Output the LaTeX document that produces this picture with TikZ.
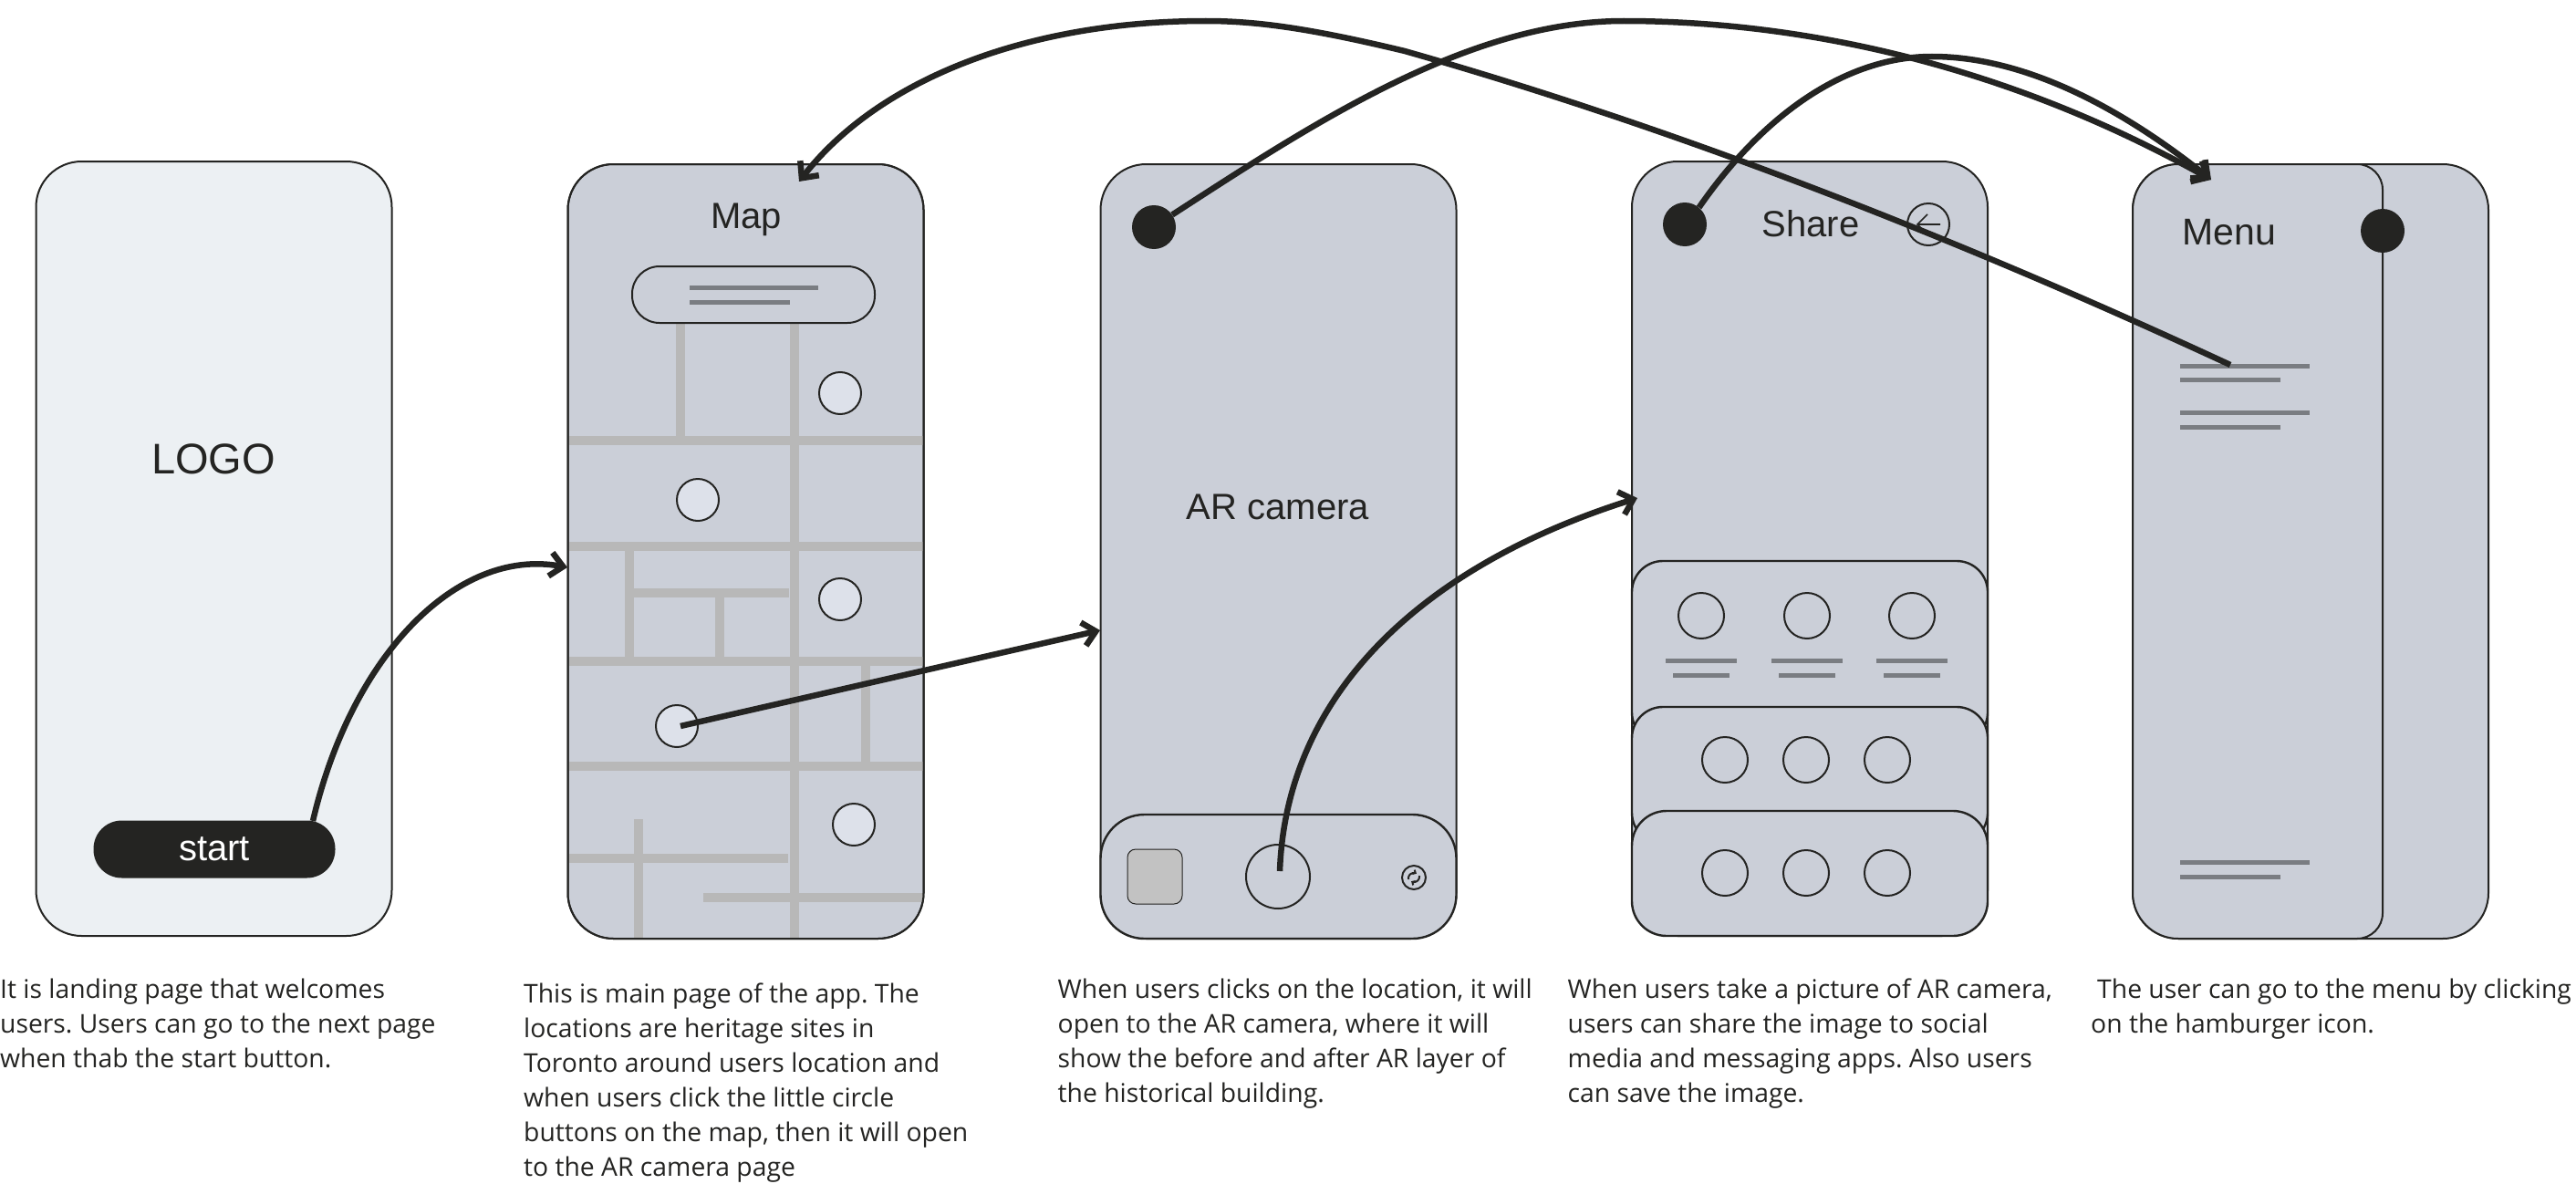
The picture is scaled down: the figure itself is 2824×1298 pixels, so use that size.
\documentclass[tikz,border=0pt]{standalone}
\usepackage{fontspec}
\setmainfont{Open Sans}
\newfontfamily\titlefont{Liberation Sans}
\usetikzlibrary{arrows.meta}
\definecolor{scr}{HTML}{CBCFD8}
\definecolor{scrlight}{HTML}{ECF0F3}
\definecolor{road}{HTML}{B8B8B8}
\definecolor{txtline}{HTML}{7A7D82}
\definecolor{ink}{HTML}{242422}
\definecolor{pinfill}{HTML}{DDE1EA}
\definecolor{thumb}{HTML}{C2C2C2}
\tikzset{
 screen/.style={draw=ink,line width=2pt,fill=scr,rounded corners=50pt,anchor=north west,inner sep=0pt,outer sep=0pt,minimum width=390pt,minimum height=849pt},
 panel/.style={draw=ink,line width=2.4pt,fill=scr,anchor=north west,inner sep=0pt,outer sep=0pt,minimum width=390pt},
 title/.style={font=\titlefont\fontsize{40}{48}\selectfont,text=ink,inner sep=0pt},
 desc/.style={font=\fontsize{28.3}{38}\selectfont,text=ink,anchor=north west,align=left,inner sep=0pt},
 pin/.style={circle,draw=ink,line width=2pt,fill=pinfill,inner sep=0pt,minimum size=46pt},
 hole/.style={circle,draw=ink,line width=2pt,fill=scr,inner sep=0pt,minimum size=50pt},
 dot/.style={circle,fill=ink,draw=none,inner sep=0pt,minimum size=48pt},
 rd/.style={draw=road,line width=10pt},
 tl/.style={draw=txtline,line width=5pt},
 link/.style={draw=ink,line width=6.5pt,-{Straight Barb[length=14pt,width=26pt,line width=6.5pt]}}
}
\begin{document}
\frenchspacing
\begin{tikzpicture}[x=1pt,y=-1pt]
\useasboundingbox (0,0) rectangle (2824,1298);
\fill[white] (0,0) rectangle (2824,1298);

% Screen 1
\node[screen,fill=scrlight] (s1) at (39.5,177) {};
\node[title,font=\titlefont\fontsize{47}{56}\selectfont] (logo) at (234,503) {LOGO};
\node[fill=ink,rounded corners=31pt,minimum width=265pt,minimum height=63pt,inner sep=0pt,text=white,font=\titlefont\fontsize{40}{48}\selectfont] (startbtn) at (235,931) {\raisebox{-3.5pt}{start}};

% Screen 2
\node[screen] (s2) at (622.5,180) {};
\foreach \xa/\ya/\xb/\yb in {746/354/746/480, 871/354/871/1029, 624/483/1012/483, 624/599/1012/599,
  624/725/1012/725, 624/840/1012/840, 690/599/690/725, 695/650/865/650, 789/650/789/725,
  949/725/949/840, 700/898/700/1029, 624/941/864/941, 771/984/1012/984}
  \draw[rd] (\xa,\ya) -- (\xb,\yb);
\node[screen,fill=none] at (622.5,180) {};
\node[title] (maptitle) at (818,241) {Map};
\node[draw=ink,line width=2pt,fill=scr,rounded corners=30pt,minimum width=266pt,minimum height=62pt,inner sep=0pt] (search) at (826,323) {};
\draw[tl] (756,315) -- (897,315);
\draw[tl] (756,331) -- (866,331);
\node[pin] (pin1) at (921,431) {};
\node[pin] (pin2) at (765,548) {};
\node[pin] (pin3) at (921,657) {};
\node[pin] (pin4) at (742,796) {};
\node[pin] (pin5) at (936,904) {};

% Screen 3
\node[screen] (s3) at (1206.5,180) {};
\node[panel,rounded corners=48pt,minimum height=136pt] (campanel) at (1206.5,893) {};
\node[dot] (dot3) at (1265,249) {};
\node[title] (artitle) at (1401,556) {AR camera};
\node[draw=ink,line width=1pt,fill=thumb,rounded corners=9pt,minimum width=60pt,minimum height=60pt,inner sep=0pt] (gallery) at (1266,961) {};
\node[circle,draw=ink,line width=2pt,fill=scr,minimum size=70pt,inner sep=0pt] (capture) at (1401,961) {};
\node[circle,draw=ink,line width=2pt,fill=scr,minimum size=26pt,inner sep=0pt] (flip) at (1550,962) {};
\draw[ink,line width=2pt,-{Straight Barb[length=2.5pt,width=5pt]}] (1544,964) arc[start angle=190,end angle=60,radius=6pt];
\draw[ink,line width=2pt,-{Straight Barb[length=2.5pt,width=5pt]}] (1556,960) arc[start angle=10,end angle=-120,radius=6pt];

% Screen 4
\node[screen] (s4) at (1789,177) {};
\node[dot] (dot4) at (1847,246) {};
\node[title] (sharetitle) at (1985,245) {Share};
\node[circle,draw=ink,line width=2pt,fill=scr,minimum size=46pt,inner sep=0pt] (back) at (2114,246) {};
\draw[ink,line width=1.6pt] (2127,246) -- (2102,246) (2113,235) -- (2102,246) -- (2113,257);
\node[panel,rounded corners=34pt,minimum height=200pt] (p1) at (1789,615) {};
\foreach \x in {1865,1981,2096}{
  \node[hole] (a\x) at (\x,675) {};
  \draw[tl] (\x-39,724) -- (\x+39,724);
  \draw[tl] (\x-31,740) -- (\x+31,740);
}
\node[panel,rounded corners=34pt,minimum height=150pt] (p2) at (1789,775) {};
\foreach \x in {1891,1980,2069}{
  \node[hole] (b\x) at (\x,833) {};
}
\node[panel,rounded corners=38pt,minimum height=137pt] (p3) at (1789,889) {};
\foreach \x in {1891,1980,2069}{
  \node[hole] (c\x) at (\x,957) {};
}

% Screen 5
\node[screen] (s5) at (2338,180) {};
\path[draw=ink,line width=2pt,fill=scr,rounded corners=50pt]
  (2338,600) |- (2480,180) [rounded corners=28pt] -| (2612,600) |- (2480,1029) [rounded corners=50pt] -| cycle;
\node[title,font=\titlefont\fontsize{41}{48}\selectfont] (menutitle) at (2444,255) {Menu};
\node[dot] (dot5) at (2612,253) {};
\foreach \y/\e in {401/2532,416/2500,452/2532,468/2500,945/2532,961/2500}
  \draw[tl] (2390,\y) -- (\e,\y);

% Descriptions
\node[desc] (t1) at (0,1073) {It is landing page that welcomes\\users. Users can go to the next page\\when thab the start button.};
\node[desc] (t2) at (574,1078) {This is main page of the app. The\\locations are heritage sites in\\Toronto around users location and\\when users click the little circle\\buttons on the map, then it will open\\to the AR camera page};
\node[desc] (t3) at (1159.5,1073) {When users clicks on the location, it will\\open to the AR camera, where it will\\show the before and after AR layer of\\the historical building.};
\node[desc] (t4) at (1718.5,1073) {When users take a picture of AR camera,\\users can share the image to social\\media and messaging apps. Also users\\can save the image.};
\node[desc] (t5) at (2292,1073) {\hspace*{7pt}The user can go to the menu by clicking\\on the hamburger icon.};

% Connector end points
\coordinate (startout) at (343,900);
\coordinate (s2in) at (622,622);
\coordinate (pinout) at (746,796);
\coordinate (s3in) at (1206,691);
\coordinate (captureout) at (1403,955);
\coordinate (s4in) at (1795,546);
\coordinate (menuin) at (2424,197);
\coordinate (menuout) at (2445,400);
\coordinate (mapin) at (876,199);

% Connectors
\draw[link] (startout) .. controls (385,720) and (500,600) .. (s2in);
\draw[link] (pinout) -- (s3in);
\draw[link] (captureout) .. controls (1410,760) and (1560,620) .. (s4in);
\draw[link] (dot3.34) .. controls (1440,135) and (1610,23) .. (1780,23) .. controls (1950,23) and (2180,60) .. (menuin);
\draw[link] (dot4.50) .. controls (1930,130) and (2020,62) .. (2118,62) .. controls (2230,62) and (2340,130) .. (menuin);
\draw[link] (menuout) .. controls (2100,240) and (1800,130) .. (1540,56) .. controls (1440,32) and (1380,23) .. (1322,23) .. controls (1130,23) and (965,85) .. (mapin);
\end{tikzpicture}
\end{document}
